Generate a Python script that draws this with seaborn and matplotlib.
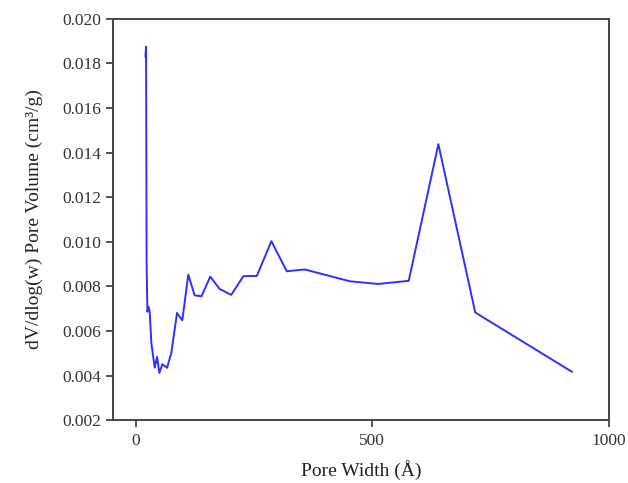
import matplotlib
matplotlib.use("Agg")
import matplotlib.pyplot as plt
import seaborn as sns
import pandas as pd

pore_width = [20.5, 21.8, 22.6, 23.0, 24.7, 27.4, 29.5, 33.1, 40.1, 45.1, 50.0, 56.3,
              66.2, 75.3, 87.3, 98.5, 111.2, 124.5, 139.2, 157.6, 177.2, 201.9,
              227.8, 256.1, 286.9, 319.4, 357.4, 453.0, 512.7, 577.4, 640.1,
              718.1, 922.8]
pore_volume = [0.0183, 0.01875, 0.0128, 0.0090, 0.00686, 0.00708, 0.00686, 0.00544,
               0.00436, 0.00484, 0.00412, 0.00451, 0.00435, 0.00502, 0.00681,
               0.00648, 0.00853, 0.00760, 0.00756, 0.00844, 0.00789, 0.00762,
               0.00846, 0.00847, 0.01003, 0.00868, 0.00876, 0.00823, 0.00811,
               0.00825, 0.01438, 0.00683, 0.00417]
x_ticks = [0, 500, 1000]
y_ticks = [0.002, 0.004, 0.006, 0.008, 0.010, 0.012, 0.014, 0.016, 0.018, 0.020]

df = pd.DataFrame({"Pore Width": pore_width, "Volume": pore_volume})

sns.set_theme(style="ticks")
plt.rcParams["font.family"] = ["Liberation Serif", "DejaVu Serif"]

fig = plt.figure(figsize=(6.28, 4.83), dpi=100)
ax = fig.add_axes([0.18, 0.130, 0.789, 0.831])
sns.lineplot(data=df, x="Pore Width", y="Volume", sort=False, estimator=None,
             color="#2f2fff", linewidth=1.4, ax=ax)

ax.set_xlim(-48, 1000)
ax.set_ylim(0.002, 0.020)
ax.set_xticks(x_ticks)
ax.set_yticks(y_ticks)
ax.set_xticklabels([str(t) for t in x_ticks])
ax.set_yticklabels([f"{t:.3f}" for t in y_ticks])
ax.tick_params(axis="both", direction="out", length=5, width=1.2, color="#333333",
               labelsize=12.5, labelcolor="#333333", top=False, right=False)
ax.tick_params(axis="x", pad=4)
for s in ax.spines.values():
    s.set_visible(True)
    s.set_color("#444444")
    s.set_linewidth(1.4)
ax.set_xlabel("Pore Width (Å)", fontsize=14, color="#222222", labelpad=8)
ax.set_ylabel("dV/dlog(w) Pore Volume (cm³/g)", fontsize=14, color="#222222", labelpad=14)
ax.grid(False)

fig.savefig("out.png", dpi=100)
